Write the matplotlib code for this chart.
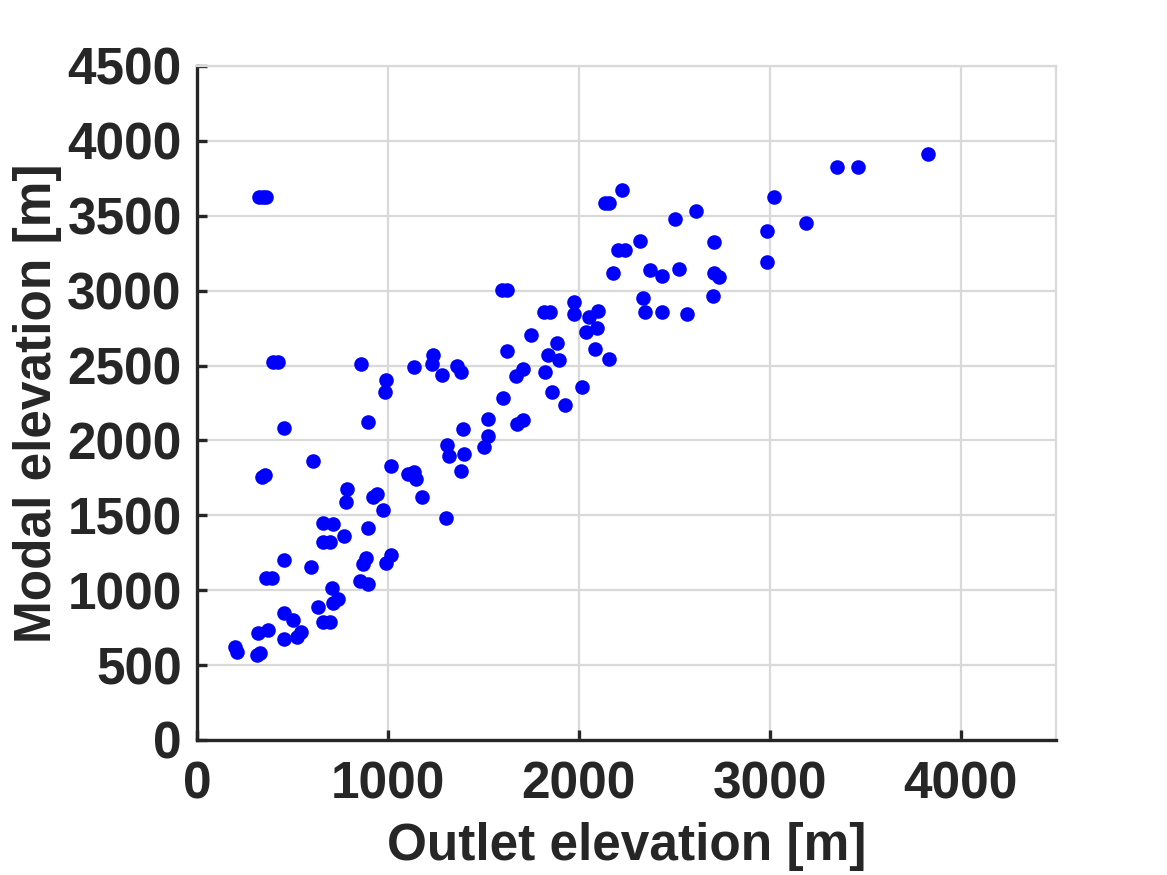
import matplotlib
matplotlib.use('Agg')
import matplotlib.pyplot as plt

# outlet vs modal elevation
outlet = [199, 210, 314, 330, 320, 372, 456, 503, 456, 524, 545, 634, 660, 697,
          707, 712, 739, 854, 896, 456, 597, 360, 395, 660, 712, 660, 697, 770,
          870, 885, 990, 1016, 896, 974, 781, 786, 922, 943, 608, 340, 356, 456,
          896, 1016, 1105, 1137, 1147, 1179, 1304, 1310, 1320, 1399, 1383, 1393,
          1524, 1524, 1503, 1603, 1624, 990, 985, 859, 400, 425, 1137, 1236, 1231,
          1283, 1362, 1383, 325, 345, 362, 1600, 1625, 2205, 2242, 2321, 2708,
          2179, 2373, 2436, 2525, 2708, 2734, 2986, 2336, 2347, 2436, 2567, 2703,
          1975, 1975, 1820, 1850, 2053, 2101, 2095, 2038, 1750, 1886, 1839, 1896,
          1823, 2085, 2158, 1671, 1708, 1860, 1928, 2017, 1676, 1708, 2135, 2160,
          2226, 2504, 2614, 3023, 2986, 3190, 3353, 3463, 3829]
modal = [621, 587, 567, 581, 714, 734, 848, 801, 674, 688, 721, 888, 788, 788,
         1015, 915, 941, 1061, 1041, 1202, 1155, 1081, 1081, 1449, 1442, 1322, 1322, 1362,
         1175, 1215, 1182, 1235, 1415, 1535, 1589, 1676, 1622, 1642, 1862, 1756, 1769, 2083,
         2123, 1829, 1776, 1789, 1742, 1622, 1482, 1969, 1896, 1909, 1796, 2076,
         2143, 2029, 1956, 2283, 2597, 2403, 2323, 2510, 2523, 2523, 2490, 2570, 2510,
         2437, 2497, 2457, 3625, 3625, 3625, 3004, 3004, 3271, 3271, 3331, 3324,
         3117, 3137, 3097, 3144, 3117, 3091, 3191, 2951, 2857, 2857, 2844, 2964,
         2924, 2844, 2857, 2857, 2824, 2864, 2750, 2724, 2704, 2650, 2570, 2537,
         2457, 2610, 2543, 2430, 2477, 2323, 2236, 2356, 2109, 2136, 3585, 3585,
         3672, 3478, 3531, 3625, 3398, 3451, 3825, 3825, 3912]

xticks = [0, 1000, 2000, 3000, 4000]
yticks = list(range(0, 4501, 500))

dark = '#262626'
grid = '#d9d9d9'

plt.rcParams['font.family'] = ['Liberation Sans', 'DejaVu Sans']
plt.rcParams['font.weight'] = 'bold'

fig = plt.figure(figsize=(11.67, 8.75), dpi=100)
ax = fig.add_axes([0.1688, 0.1543, 0.7361, 0.7703])

ax.plot(outlet, modal, 'o', color='#0000ff', markersize=10.5, markeredgewidth=0, zorder=3)

ax.set_xlim(0, 4500)
ax.set_ylim(0, 4500)
ax.set_xticks(xticks)
ax.set_yticks(yticks)
ax.grid(True, color=grid, linewidth=1.6)
ax.set_axisbelow(True)

for s in ['top', 'right']:
    ax.spines[s].set_color(grid)
    ax.spines[s].set_linewidth(1.6)
for s in ['left', 'bottom']:
    ax.spines[s].set_color(dark)
    ax.spines[s].set_linewidth(2.4)

ax.tick_params(direction='in', length=7, width=2.4, colors=dark, labelsize=37)
ax.tick_params(axis='y', pad=11)
ax.tick_params(axis='x', pad=15)
for lab in ax.get_xticklabels() + ax.get_yticklabels():
    lab.set_fontweight('bold')

ax.set_xlabel('Outlet elevation [m]', fontsize=37, fontweight='bold', color=dark, labelpad=9)
ax.set_ylabel('Modal elevation [m]', fontsize=37, fontweight='bold', color=dark, labelpad=4)

fig.savefig('out.png', dpi=100)
